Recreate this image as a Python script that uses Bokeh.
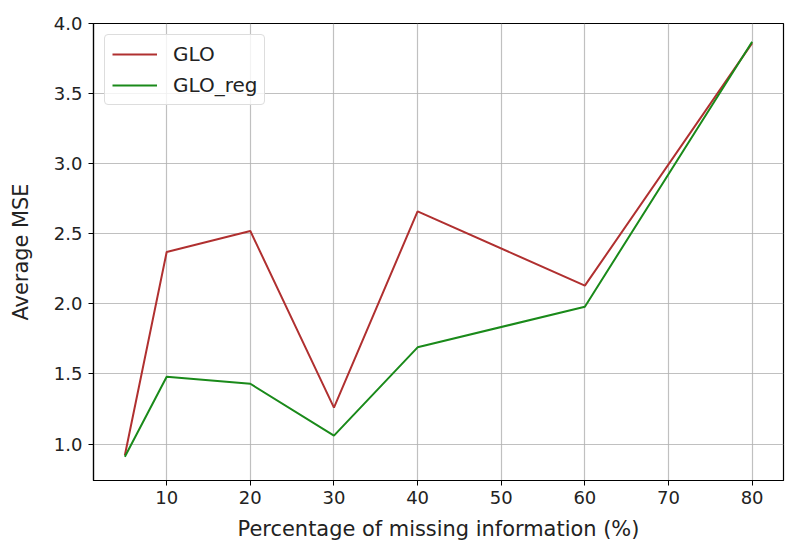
from bokeh.plotting import figure
from bokeh.models import Range1d, FixedTicker, Legend, LegendItem, CustomJSTickFormatter
from bokeh.embed import file_html
from bokeh.resources import INLINE

x_vals = [5, 10, 20, 30, 40, 60, 80]
glo = [0.92, 2.37, 2.52, 1.26, 2.66, 2.13, 3.86]
glo_reg = [0.91, 1.48, 1.43, 1.06, 1.69, 1.98, 3.87]
x_ticks = [10, 20, 30, 40, 50, 60, 70, 80]
y_ticks = [1.0, 1.5, 2.0, 2.5, 3.0, 3.5, 4.0]

p = figure(width=787, height=543, output_backend="svg", toolbar_location=None,
           x_range=Range1d(1.25, 83.75), y_range=Range1d(0.74, 4.0),
           min_border_left=93, min_border_right=4, min_border_top=23, min_border_bottom=63)
p.outline_line_color = "black"
p.outline_line_width = 1.2
p.background_fill_color = "white"
p.border_fill_color = "white"

for ax in (p.xaxis, p.yaxis):
    ax.major_label_text_font = "DejaVu Sans"
    ax.major_label_text_font_size = "13.5pt"
    ax.major_label_text_color = "#222222"
    ax.axis_label_text_font = "DejaVu Sans"
    ax.axis_label_text_font_size = "15.7pt"
    ax.axis_label_text_font_style = "normal"
    ax.axis_label_text_color = "#222222"
    ax.minor_tick_line_color = None
    ax.major_tick_in = 0
    ax.major_tick_out = 5
    ax.axis_line_color = "black"
    ax.axis_line_width = 1.2

p.xaxis.major_label_standoff = 5
p.xaxis.axis_label_standoff = 10
p.yaxis.major_label_standoff = 6
p.yaxis.axis_label_standoff = 18

p.xaxis.ticker = FixedTicker(ticks=x_ticks)
p.yaxis.ticker = FixedTicker(ticks=y_ticks)
p.yaxis.formatter = CustomJSTickFormatter(code="return tick.toFixed(1);")
p.xaxis.axis_label = "Percentage of missing information (%)"
p.yaxis.axis_label = "Average MSE"

p.grid.grid_line_color = "#b0b0b0"
p.grid.grid_line_width = 1.2
p.grid.grid_line_alpha = 0.8

r1 = p.line(x_vals, glo, line_color="#b03030", line_width=2)
r2 = p.line(x_vals, glo_reg, line_color="#1a8a1a", line_width=2)

legend = Legend(items=[LegendItem(label="GLO", renderers=[r1]),
                       LegendItem(label="GLO_reg", renderers=[r2])],
                location="top_left")
legend.label_text_font = "DejaVu Sans"
legend.label_text_font_size = "15pt"
legend.label_text_color = "#222222"
legend.border_line_color = "#dddddd"
legend.border_line_alpha = 1
legend.border_radius = 4
legend.background_fill_alpha = 0.8
legend.glyph_width = 45
legend.label_standoff = 16
legend.margin = 11
legend.padding = 7
legend.spacing = 7
p.add_layout(legend)

open("out.html", "w").write(file_html(p, INLINE))
